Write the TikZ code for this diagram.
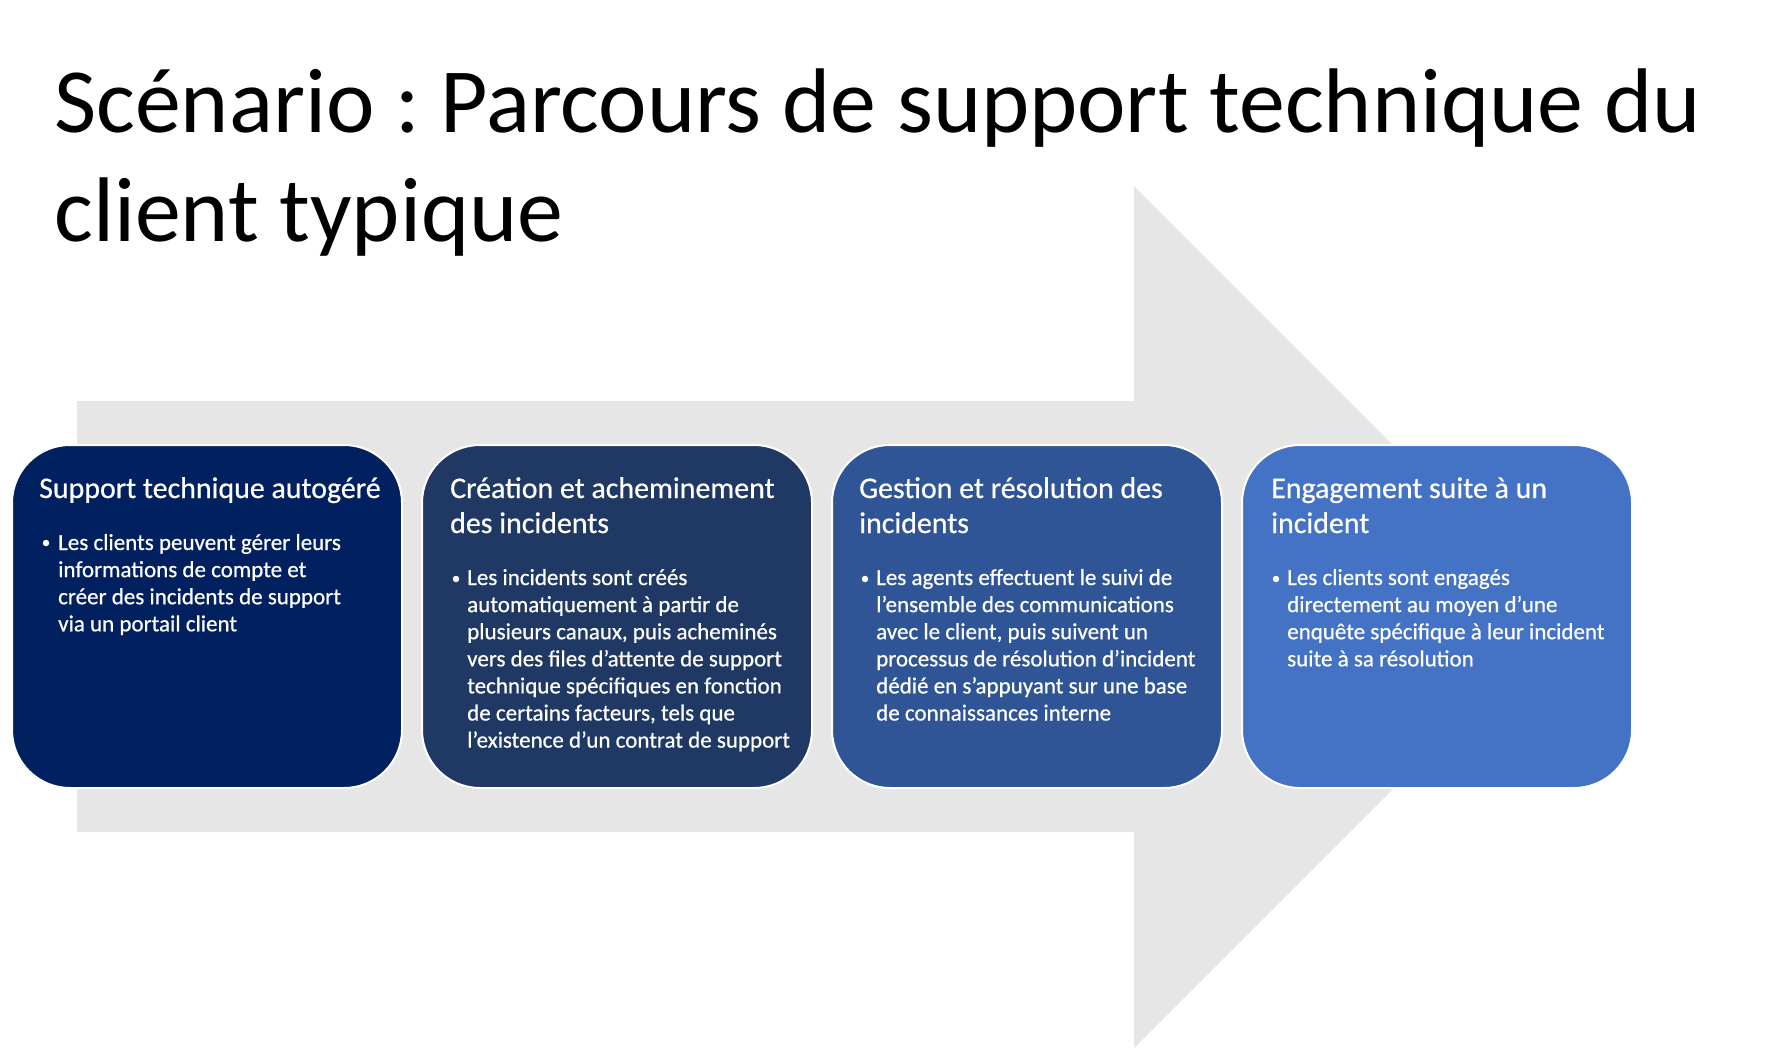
\documentclass[tikz,border=0pt]{standalone}
\usepackage{fontspec}
\setmainfont{Carlito}
\newfontfamily\boxfont{Carlito}[FakeBold=0.6]
\frenchspacing
\definecolor{arrowgrey}{HTML}{E6E6E6}
\definecolor{boxA}{HTML}{002060}
\definecolor{boxB}{HTML}{203864}
\definecolor{boxC}{HTML}{2F5597}
\definecolor{boxD}{HTML}{4472C4}
\newcommand{\headtxt}[1]{\parbox[t]{380pt}{\raggedright\boxfont\fontsize{29.9}{35}\selectfont #1}}
\newcommand{\bodytxt}[1]{\parbox[t]{380pt}{\raggedright\boxfont\fontsize{23}{27.1}\selectfont #1}}
\tikzset{
  stagebox/.style={draw=white, line width=2pt, rounded corners=58pt},
  headlbl/.style={anchor=base west, inner sep=0pt, text=white},
  bodylbl/.style={anchor=base west, inner sep=0pt, text=white},
  bulletdot/.style={circle, fill=white, inner sep=0pt, minimum size=6.5pt},
}
\begin{document}
\begin{tikzpicture}[x=1pt,y=-1pt]
\useasboundingbox (0,0) rectangle (1766,1048);
% big arrow
\fill[arrowgrey] (77,401) -- (1134,401) -- (1134,186) -- (1565,617) -- (1134,1048) -- (1134,832) -- (77,832) -- cycle;
% title
\node[anchor=base west, inner sep=0pt] (title) at (54,133) {\parbox[t]{1750pt}{\raggedright\fontsize{91.8}{109}\selectfont Scénario : Parcours de support technique du\\client typique}};
% boxes
\draw[stagebox, fill=boxA] (12,445) rectangle (402,788);
\draw[stagebox, fill=boxB] (422,445) rectangle (812,788);
\draw[stagebox, fill=boxC] (832,445) rectangle (1222,788);
\draw[stagebox, fill=boxD] (1242,445) rectangle (1632,788);
% box 1
\node[headlbl] (h1) at (39,498) {\headtxt{Support technique autogéré}};
\node[bulletdot] (d1) at (46,543) {};
\node[bodylbl] (b1) at (58,550) {\bodytxt{Les clients peuvent gérer leurs\\informations de compte et\\créer des incidents de support\\via un portail client}};
% box 2
\node[headlbl] (h2) at (450,498) {\headtxt{Création et acheminement\\des incidents}};
\node[bulletdot] (d2) at (456,579) {};
\node[bodylbl] (b2) at (467,585) {\bodytxt{Les incidents sont créés\\automatiquement à partir de\\plusieurs canaux, puis acheminés\\vers des files d’attente de support\\technique spécifiques en fonction\\de certains facteurs, tels que\\l’existence d’un contrat de support}};
% box 3
\node[headlbl] (h3) at (859,498) {\headtxt{Gestion et résolution des\\incidents}};
\node[bulletdot] (d3) at (865,579) {};
\node[bodylbl] (b3) at (876,585) {\bodytxt{Les agents effectuent le suivi de\\l’ensemble des communications\\avec le client, puis suivent un\\processus de résolution d’incident\\dédié en s’appuyant sur une base\\de connaissances interne}};
% box 4
\node[headlbl] (h4) at (1271,498) {\headtxt{Engagement suite à un\\incident}};
\node[bulletdot] (d4) at (1276,579) {};
\node[bodylbl] (b4) at (1287,585) {\bodytxt{Les clients sont engagés\\directement au moyen d’une\\enquête spécifique à leur incident\\suite à sa résolution}};
\end{tikzpicture}
\end{document}
